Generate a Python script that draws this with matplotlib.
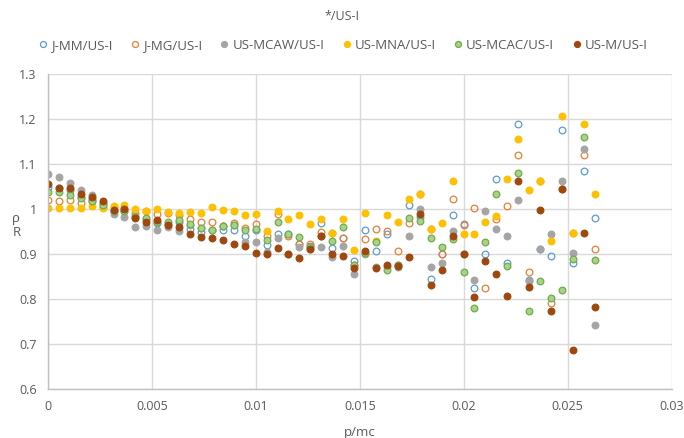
import matplotlib
matplotlib.use("Agg")
import matplotlib.pyplot as plt

plt.rcParams['font.family'] = ['Open Sans', 'DejaVu Sans']

# p/mc positions
x = [0, 0.00053, 0.00105, 0.00158, 0.0021, 0.00263, 0.00316, 0.00368, 0.00421, 0.00473,
     0.00526, 0.00579, 0.00631, 0.00684, 0.00736, 0.00789, 0.00842, 0.00894, 0.00947, 0.00999,
     0.01052, 0.01105, 0.01157, 0.0121, 0.01262, 0.01315, 0.01368, 0.0142, 0.01473, 0.01525,
     0.01578, 0.01631, 0.01683, 0.01736, 0.01788, 0.01841, 0.01894, 0.01946, 0.01999, 0.02051,
     0.02104, 0.02157, 0.02209, 0.02262, 0.02314, 0.02367, 0.0242, 0.02472, 0.02525, 0.02577,
     0.0263]

j_mm = [1.048, 1.047, 1.042, 1.026, 1.022, 1.010, 0.995, 0.995, 0.985, 0.978,
        0.968, 0.966, 0.972, 0.955, 0.948, 0.953, 0.953, 0.953, 0.940, 0.953,
        0.921, 0.944, 0.944, 0.922, 0.918, 0.968, 0.913, 0.936, 0.884, 0.953,
        0.907, 0.944, 0.875, 1.009, 0.983, 0.844, 0.899, 0.987, 0.966, 0.824,
        0.901, 1.066, 0.879, 1.190, 0.843, 0.911, 0.896, 1.176, 0.879, 1.084,
        0.981]
j_mg = [1.020, 1.017, 1.019, 1.014, 1.018, 1.004, 1.004, 1.003, 0.992, 0.996,
        0.989, 0.992, 0.986, 0.978, 0.970, 0.970, 0.963, 0.968, 0.957, 0.966,
        0.939, 0.988, 0.940, 0.922, 0.922, 0.948, 0.946, 0.936, 0.876, 0.933,
        0.956, 0.951, 0.907, 0.968, 1.033, 0.956, 0.899, 1.023, 0.964, 1.003,
        0.824, 0.978, 1.007, 1.121, 0.861, 1.062, 0.791, 1.044, 0.946, 1.121,
        0.912]
us_mcaw = [1.077, 1.070, 1.058, 1.043, 1.030, 1.014, 0.988, 0.983, 0.961, 0.963,
           0.953, 0.960, 0.950, 0.965, 0.957, 0.954, 0.962, 0.964, 0.927, 0.927,
           0.905, 0.936, 0.900, 0.915, 0.912, 0.916, 0.894, 0.918, 0.855, 0.901,
           0.872, 0.870, 0.872, 0.940, 0.999, 0.870, 0.881, 0.951, 0.900, 0.843,
           0.995, 0.955, 0.939, 1.021, 0.839, 0.911, 0.944, 1.062, 0.902, 1.133,
           0.743]
us_mna = [1.003, 1.003, 1.003, 1.002, 1.006, 1.003, 1.006, 1.008, 1.001, 0.996,
          1.000, 0.993, 0.991, 0.993, 0.991, 1.004, 0.997, 0.996, 0.986, 0.989,
          0.952, 0.996, 0.978, 0.987, 0.967, 0.977, 0.946, 0.978, 0.909, 0.990,
          0.929, 0.987, 0.971, 1.022, 1.033, 0.955, 0.969, 1.062, 0.945, 0.945,
          0.971, 0.984, 1.067, 1.156, 1.043, 1.062, 0.929, 1.207, 0.946, 1.190,
          1.033]
us_mcac = [1.038, 1.037, 1.032, 1.024, 1.018, 1.008, 0.996, 0.996, 0.983, 0.981,
           0.972, 0.970, 0.976, 0.967, 0.958, 0.954, 0.963, 0.965, 0.953, 0.956,
           0.931, 0.971, 0.944, 0.937, 0.916, 0.940, 0.929, 0.961, 0.876, 0.903,
           0.927, 0.864, 0.875, 0.981, 0.973, 0.935, 0.915, 0.933, 0.861, 0.779,
           0.927, 1.033, 0.874, 1.080, 0.774, 0.839, 0.803, 0.821, 0.889, 1.161,
           0.887]
us_m = [1.055, 1.047, 1.046, 1.033, 1.026, 1.018, 0.998, 1.000, 0.980, 0.970,
        0.975, 0.964, 0.960, 0.944, 0.937, 0.936, 0.930, 0.923, 0.917, 0.902,
        0.901, 0.913, 0.901, 0.892, 0.910, 0.939, 0.899, 0.896, 0.868, 0.906,
        0.868, 0.876, 0.873, 0.894, 0.988, 0.830, 0.864, 0.940, 0.901, 0.805,
        0.885, 0.856, 0.806, 1.063, 0.826, 0.998, 0.774, 1.044, 0.686, 0.946,
        0.783]

series = [
    ("J-MM/US-I", j_mm, "none", "#5B9BD5"),
    ("J-MG/US-I", j_mg, "none", "#ED7D31"),
    ("US-MCAW/US-I", us_mcaw, "#A5A5A5", "#A5A5A5"),
    ("US-MNA/US-I", us_mna, "#FFC000", "#FFC000"),
    ("US-MCAC/US-I", us_mcac, "#A9D18E", "#70AD47"),
    ("US-M/US-I", us_m, "#9E480E", "#9E480E"),
]

fig = plt.figure(figsize=(6.84, 4.38), dpi=100)
ax = fig.add_axes([0.070, 0.112, 0.912, 0.719])

for name, ys, fc, ec in series:
    ax.plot(x, ys, linestyle="none", marker="o", markersize=4.8,
            markerfacecolor=fc, markeredgecolor=ec, markeredgewidth=0.9, label=name)

ax.set_xlim(0, 0.03)
ax.set_ylim(0.6, 1.3)
ax.set_xticks([0, 0.005, 0.01, 0.015, 0.02, 0.025, 0.03])
ax.set_xticklabels(["0", "0.005", "0.01", "0.015", "0.02", "0.025", "0.03"])
ax.set_yticks([0.6, 0.7, 0.8, 0.9, 1.0, 1.1, 1.2, 1.3])
ax.set_yticklabels(["0.6", "0.7", "0.8", "0.9", "1", "1.1", "1.2", "1.3"])
ax.grid(True, color="#D9D9D9", linewidth=1)
ax.set_axisbelow(True)
for s in ["top", "right"]:
    ax.spines[s].set_visible(False)
for s in ["left", "bottom"]:
    ax.spines[s].set_color("#BFBFBF")
    ax.spines[s].set_linewidth(1)
ax.tick_params(length=0, labelsize=9, colors="#595959", pad=8)

ax.set_xlabel("p/mc", fontsize=9.5, color="#595959", labelpad=9)
fig.text(0.018, 0.485, "ρ\nR", fontsize=9.5, color="#595959", ha="left", va="center",
         linespacing=1.05)

fig.text(0.5, 0.962, "*/US-I", fontsize=9, color="#595959", ha="center", va="center")
fig.legend(loc="center", bbox_to_anchor=(0.5, 0.897), ncol=6, frameon=False,
           fontsize=9.5, labelcolor="#595959", handletextpad=0.1, columnspacing=1.2,
           handlelength=1.0, markerscale=0.9)

plt.savefig("out.png", dpi=100)
